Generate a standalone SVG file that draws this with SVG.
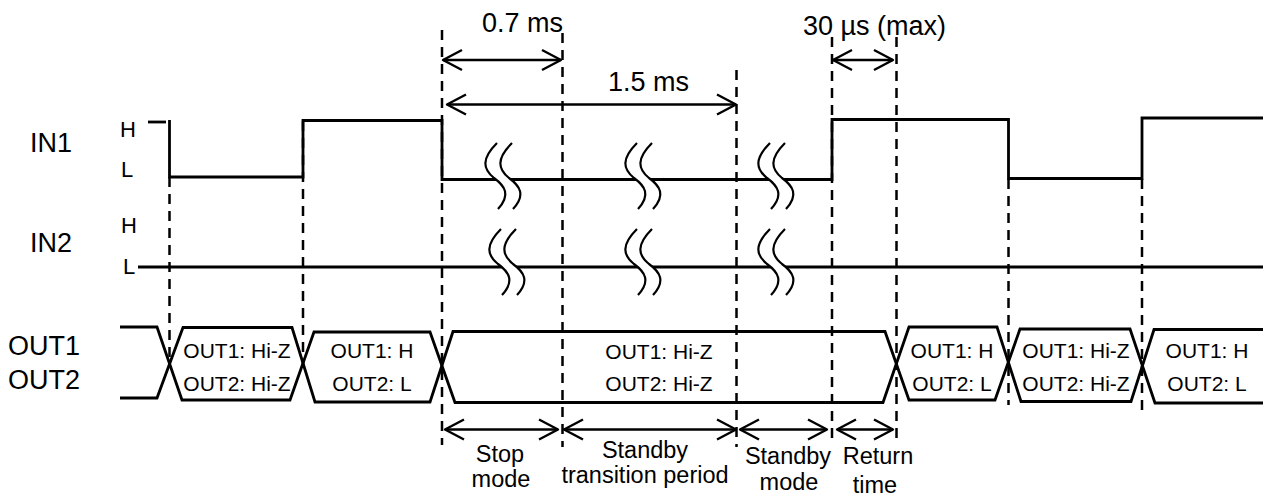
<svg xmlns="http://www.w3.org/2000/svg" xmlns:xlink="http://www.w3.org/1999/xlink" width="1263" height="498" viewBox="0 0 1263 498">
<style>
text{font-family:"Liberation Sans",Arial,sans-serif;fill:#000}
.big{font-size:27px}
.lv{font-size:22px}
.bx{font-size:21px;text-anchor:middle}
.md{font-size:23.5px;text-anchor:middle}
.sig{fill:none;stroke:#000;stroke-width:2.8}
.dash{fill:none;stroke:#000;stroke-width:2.5;stroke-dasharray:10,7}
.dim{fill:none;stroke:#000;stroke-width:2.4;marker-start:url(#ah);marker-end:url(#ah)}
.sq{fill:none;stroke:#000;stroke-width:2.2}
</style>
<defs>
<marker id="ah" viewBox="-22 -12 24 24" refX="0" refY="0" markerWidth="24" markerHeight="24" markerUnits="userSpaceOnUse" orient="auto-start-reverse">
<path d="M-19,-10 L0,0 L-19,10" fill="none" stroke="#000" stroke-width="2.4" stroke-linejoin="round"/>
</marker>
<g id="brk">
<path d="M-6,-36 C-22,-20 -20,-10 -9,-1 C2,7 8,16 -5,30 L10,30 C23,16 17,7 6,-1 C-5,-10 -7,-20 9,-36 Z" fill="#fff" stroke="none"/>
<path class="sq" d="M-6,-36 C-22,-20 -20,-10 -9,-1 C2,7 8,16 -5,30"/>
<path class="sq" d="M9,-36 C-7,-20 -5,-10 6,-1 C17,7 23,16 10,30"/>
</g>
</defs>
<rect width="1263" height="498" fill="#fff"/>

<g id="labels">
<text class="big" x="30" y="152">IN1</text>
<text class="big" x="30" y="252">IN2</text>
<text class="big" x="8" y="355">OUT1</text>
<text class="big" x="8" y="389">OUT2</text>
<text class="lv" x="120" y="137">H</text>
<text class="lv" x="121" y="177">L</text>
<text class="lv" x="121" y="233">H</text>
<text class="lv" x="123" y="274">L</text>
</g>

<g id="connectors">
<g id="guides">
<path class="dash" d="M169.5,177V362"/>
<path class="dash" d="M303,121V365"/>
<path class="dash" d="M442,30V445"/>
<path class="dash" d="M562.5,33V447"/>
<path class="dash" d="M736.5,70V447"/>
<path class="dash" d="M832,37V440"/>
<path class="dash" d="M896.5,37V440"/>
<path class="dash" d="M1008.5,179V405"/>
<path class="dash" d="M1142,179V412"/>
</g>
<g id="dims">
<path class="dim" d="M443,60H561"/>
<path class="dim" d="M447,104.5H736"/>
<path class="dim" d="M833,60H893"/>
<path class="dim" d="M445,429.5H558"/>
<path class="dim" d="M564,429.5H736"/>
<path class="dim" d="M740,429.5H827"/>
<path class="dim" d="M837,429.5H893"/>
</g>
</g>

<g id="in1">
<path class="sig" d="M148,122H166"/>
<path class="sig" d="M169.5,120V177H303V120.5H442V179.5H832V119.5H1008.5V178.5H1142V118H1263"/>
<use href="#brk" xlink:href="#brk" transform="translate(503,179)"/>
<use href="#brk" xlink:href="#brk" transform="translate(643,179)"/>
<use href="#brk" xlink:href="#brk" transform="translate(776,179)"/>
</g>

<g id="in2">
<path class="sig" d="M138,267H1263"/>
<use href="#brk" xlink:href="#brk" transform="translate(507,265)"/>
<use href="#brk" xlink:href="#brk" transform="translate(643,265)"/>
<use href="#brk" xlink:href="#brk" transform="translate(776,265)"/>
</g>

<g id="out">
<path class="sig" d="M120,327L157,327L182,400L290,400L314,332L430,332L455,402.5L883,402.5L909,327L997,327L1021,401.5L1131,401.5L1154,329.5L1263,329.5"/>
<path class="sig" d="M120,398L157,398L183,327.5L292,327.5L315,402L430,402L453,331.5L885,331.5L909,400L995,400L1020,329L1130,329L1155,403L1263,403"/>
</g>

<g id="state1">
<text class="bx" x="237" y="358">OUT1: Hi-Z</text>
<text class="bx" x="237" y="391">OUT2: Hi-Z</text>
</g>
<g id="state2">
<text class="bx" x="372" y="358">OUT1: H</text>
<text class="bx" x="372" y="391">OUT2: L</text>
</g>
<g id="state3">
<text class="bx" x="659" y="359">OUT1: Hi-Z</text>
<text class="bx" x="659" y="391">OUT2: Hi-Z</text>
</g>
<g id="state4">
<text class="bx" x="952" y="358">OUT1: H</text>
<text class="bx" x="952" y="391">OUT2: L</text>
</g>
<g id="state5">
<text class="bx" x="1076" y="358">OUT1: Hi-Z</text>
<text class="bx" x="1076" y="391">OUT2: Hi-Z</text>
</g>
<g id="state6">
<text class="bx" x="1207" y="358">OUT1: H</text>
<text class="bx" x="1207" y="391">OUT2: L</text>
</g>

<g id="timing-labels">
<text class="big" x="482" y="32">0.7 ms</text>
<text class="big" x="608" y="91">1.5 ms</text>
<text class="big" x="803" y="35">30 µs (max)</text>
</g>

<g id="period-labels">
<text class="md" x="500" y="462">Stop</text>
<text class="md" x="501" y="487">mode</text>
<text class="md" x="645" y="458">Standby</text>
<text class="md" x="645" y="483">transition period</text>
<text class="md" x="788" y="464">Standby</text>
<text class="md" x="789" y="490">mode</text>
<text class="md" x="878" y="464">Return</text>
<text class="md" x="875" y="493">time</text>
</g>
</svg>
